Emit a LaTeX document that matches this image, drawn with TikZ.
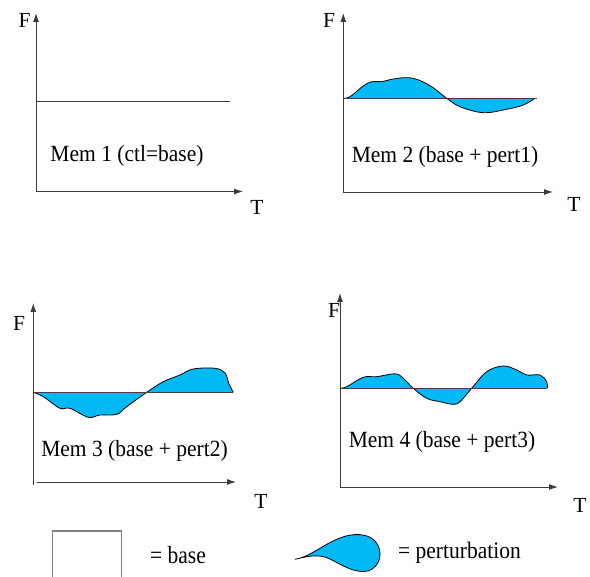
\documentclass[tikz,border=0pt]{standalone}
\usepackage{fontspec}
\setmainfont{Liberation Serif}
\usetikzlibrary{arrows.meta}
\definecolor{pertblue}{RGB}{0,185,245}
\definecolor{axisgray}{RGB}{60,60,60}
\tikzset{
  axis/.style={draw=axisgray, line width=0.9pt, -{Latex[length=9pt,width=6pt]}},
  baseline/.style={draw=black!75, line width=0.9pt},
  pert/.style={fill=pertblue, draw=black, line width=0.8pt},
  lbl/.style={font=\fontsize{21.5}{24}\selectfont, inner sep=0pt},
  memlbl/.style={font=\fontsize{21.5}{24}\selectfont, inner sep=0pt, anchor=base},
}
\newcommand{\stretchtxt}[1]{\scalebox{1}[1.08]{#1}}
\begin{document}
\begin{tikzpicture}[x=1pt,y=-1pt]
\useasboundingbox (0,0) rectangle (590,577);

% ---------- Panel 1 ----------
\coordinate (o1) at (36,191.5);
\coordinate (fy1) at (36,13);
\coordinate (tx1) at (243,191.5);
\coordinate (b1s) at (36,101);
\coordinate (b1e) at (230,101);
\draw[axis] (o1) -- (fy1);
\draw[axis] (o1) -- (tx1);
\draw[baseline] (b1s) -- (b1e);
\node[lbl, anchor=base] (F1) at (24.5,28) {F};
\node[lbl, anchor=base] (T1) at (257,215) {T};
\node[memlbl] (M1) at (127,162) {\stretchtxt{Mem 1 (ctl=base)}};

% ---------- Panel 2 ----------
\coordinate (o2) at (343.3,192);
\coordinate (fy2) at (343.3,13);
\coordinate (tx2) at (553,192);
\fill[pertblue] plot[smooth, tension=0.6] coordinates {(343.3,98.3) (350,96.7) (363.3,86) (371.7,81.7) (381.7,81.7) (391.7,79.3) (405,77.7) (416.7,79.3) (431.7,86.7) (446.7,98.3) (460,106.7) (483.3,112.7) (506.7,109.3) (523.3,105) (535,98.3)} -- cycle;
\draw[black, line width=0.8pt] plot[smooth, tension=0.6] coordinates {(343.3,98.3) (350,96.7) (363.3,86) (371.7,81.7) (381.7,81.7) (391.7,79.3) (405,77.7) (416.7,79.3) (431.7,86.7) (446.7,98.3) (460,106.7) (483.3,112.7) (506.7,109.3) (523.3,105) (535,98.3)};
\coordinate (b2s) at (343.3,98.3);
\coordinate (b2e) at (537,98.3);
\draw[baseline] (b2s) -- (b2e);
\draw[axis] (o2) -- (fy2);
\draw[axis] (o2) -- (tx2);
\node[lbl, anchor=base] (F2) at (329,28) {F};
\node[lbl, anchor=base] (T2) at (574,212) {T};
\node[memlbl] (M2) at (445,163) {\stretchtxt{Mem 2 (base + pert1)}};

% ---------- Panel 3 ----------
\coordinate (o3) at (33.3,485);
\coordinate (fy3) at (33.3,303);
\coordinate (xs3) at (37,482);
\coordinate (tx3) at (236,482);
\fill[pertblue] plot[smooth, tension=0.6] coordinates {(33.3,392.3) (43.3,396.7) (60,408.3) (70,408.3) (88.3,417.3) (100,415) (116.7,414.3) (126.7,406.7) (146.7,392.3) (163.3,381.7) (180,375) (193.3,369) (215,368.3) (225,373) (229,384) (233.3,392.3)} -- cycle;
\draw[black, line width=0.8pt] plot[smooth, tension=0.6] coordinates {(33.3,392.3) (43.3,396.7) (60,408.3) (70,408.3) (88.3,417.3) (100,415) (116.7,414.3) (126.7,406.7) (146.7,392.3) (163.3,381.7) (180,375) (193.3,369) (215,368.3) (225,373) (229,384) (233.3,392.3)};
\coordinate (b3s) at (33.3,392.3);
\coordinate (b3e) at (233.3,392.3);
\draw[baseline] (b3s) -- (b3e);
\draw[axis] (o3) -- (fy3);
\draw[axis] (xs3) -- (tx3);
\node[lbl, anchor=base] (F3) at (19,330.5) {F};
\node[lbl, anchor=base] (T3) at (261,509) {T};
\node[memlbl] (M3) at (134.5,457) {\stretchtxt{Mem 3 (base + pert2)}};

% ---------- Panel 4 ----------
\coordinate (o4) at (340,487);
\coordinate (fy4) at (340,293);
\coordinate (tx4) at (558,487);
\fill[pertblue] plot[smooth, tension=0.6] coordinates {(340,388.3) (346.7,386.7) (363.3,377.3) (376.7,376.7) (395,373.8) (403,378) (413.3,388.3) (426.7,398.3) (440,401.7) (453.3,404.3) (460,401.7) (471.7,388.3) (486.7,371.7) (503.3,366) (516.7,370) (526.7,375) (540,375) (546.7,381.7) (547.3,388.3)} -- cycle;
\draw[black, line width=0.8pt] plot[smooth, tension=0.6] coordinates {(340,388.3) (346.7,386.7) (363.3,377.3) (376.7,376.7) (395,373.8) (403,378) (413.3,388.3) (426.7,398.3) (440,401.7) (453.3,404.3) (460,401.7) (471.7,388.3) (486.7,371.7) (503.3,366) (516.7,370) (526.7,375) (540,375) (546.7,381.7) (547.3,388.3)};
\coordinate (b4s) at (340,388.3);
\coordinate (b4e) at (547.3,388.3);
\draw[baseline] (b4s) -- (b4e);
\draw[axis] (o4) -- (fy4);
\draw[axis] (o4) -- (tx4);
\node[lbl, anchor=base] (F4) at (334,318) {F};
\node[lbl, anchor=base] (T4) at (580,513) {T};
\node[memlbl] (M4) at (442,448) {\stretchtxt{Mem 4 (base + pert3)}};

% ---------- Legend ----------
\coordinate (lb1) at (52.7,578);
\coordinate (lb2) at (52.7,531);
\coordinate (lb3) at (121.7,531);
\coordinate (lb4) at (121.7,578);
\draw[draw=gray, line width=1.2pt] (lb1) -- (lb2) -- (lb3) -- (lb4);
\node[lbl, anchor=base west] (Lbase) at (150,564) {\scalebox{1}[1.15]{= base}};

\draw[pert] (295,559.3) .. controls (310,557) and (322,545) .. (340,538)
  .. controls (352,533) and (368,533) .. (375,541)
  .. controls (383,550) and (382,566) .. (368,571)
  .. controls (355,574) and (340,564) .. (330,559)
  .. controls (318,553) and (305,557) .. (295,559.3) -- cycle;
\node[lbl, anchor=base west] (Lpert) at (398,559) {\scalebox{1}[1.1]{= perturbation}};
\end{tikzpicture}
\end{document}
